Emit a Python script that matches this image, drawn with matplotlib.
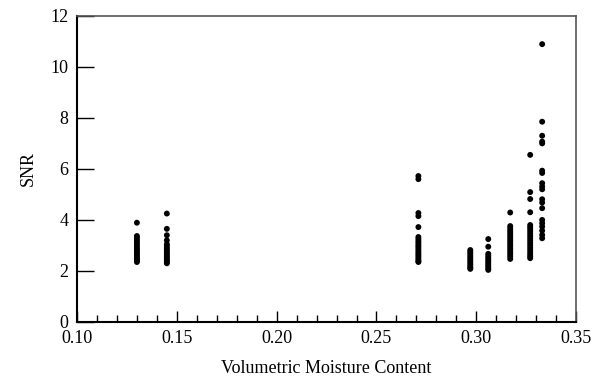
import numpy as np
import matplotlib
matplotlib.use("Agg")
import matplotlib.pyplot as plt
from matplotlib.ticker import MultipleLocator, FormatStrFormatter

plt.rcParams['font.family'] = ['Liberation Serif', 'DejaVu Serif']

vmc_groups = [0.130, 0.145, 0.271, 0.297, 0.306, 0.317, 0.327, 0.333]
snr_groups = [
    [3.89, 3.37, 3.30, 3.22, 3.15, 3.08, 3.00, 2.93, 2.86, 2.80, 2.74, 2.68,
     2.62, 2.56, 2.50, 2.45, 2.40, 2.35],
    [4.25, 3.65, 3.40, 3.20, 3.05, 2.98, 2.90, 2.83, 2.76, 2.70, 2.64, 2.58,
     2.52, 2.46, 2.40, 2.35, 2.30],
    [5.72, 5.60, 4.27, 4.15, 3.72, 3.33, 3.25, 3.17, 3.10, 3.02, 2.95, 2.88,
     2.80, 2.73, 2.66, 2.59, 2.52, 2.45, 2.38, 2.35],
    [2.82, 2.75, 2.68, 2.60, 2.53, 2.46, 2.39, 2.32, 2.25, 2.18, 2.12, 2.08],
    [3.25, 2.95, 2.67, 2.60, 2.52, 2.45, 2.38, 2.31, 2.24, 2.17, 2.10, 2.04],
    [4.29, 3.76, 3.68, 3.60, 3.52, 3.44, 3.36, 3.28, 3.20, 3.12, 3.04, 2.96,
     2.88, 2.80, 2.72, 2.64, 2.56, 2.47],
    [6.55, 5.09, 4.82, 4.30, 3.80, 3.72, 3.64, 3.55, 3.46, 3.37, 3.28, 3.19,
     3.10, 3.01, 2.92, 2.83, 2.74, 2.65, 2.57, 2.50],
    [10.89, 7.85, 7.30, 7.07, 7.00, 5.93, 5.84, 5.44, 5.31, 5.20, 4.81, 4.68,
     4.46, 4.00, 3.87, 3.74, 3.58, 3.41, 3.28],
]

fig = plt.figure(figsize=(5.97, 3.77), dpi=100)
ax = fig.add_axes([0.129, 0.146, 0.836, 0.812])

for vmc, snr in zip(vmc_groups, snr_groups):
    ax.scatter(np.full(len(snr), vmc), snr, s=18, color='black',
               edgecolors='none', zorder=3)

ax.set_xlim(0.10, 0.35)
ax.set_ylim(0, 12)
ax.xaxis.set_major_locator(MultipleLocator(0.05))
ax.xaxis.set_minor_locator(MultipleLocator(0.01))
ax.xaxis.set_major_formatter(FormatStrFormatter('%.2f'))
ax.yaxis.set_major_locator(MultipleLocator(2))

ax.tick_params(axis='x', which='major', direction='in', length=8, width=1,
               labelsize=13, pad=6, top=False)
ax.tick_params(axis='x', which='minor', direction='in', length=5, width=1,
               top=False)
ax.tick_params(axis='y', which='major', direction='in', length=12, width=1,
               labelsize=13, pad=6, right=False)

ax.spines['left'].set_linewidth(1.5)
ax.spines['bottom'].set_linewidth(1.5)
for side in ['top', 'right']:
    ax.spines[side].set_linewidth(1.2)
    ax.spines[side].set_color('#555555')

ax.set_xlabel('Volumetric Moisture Content', fontsize=13, labelpad=9)
ax.set_ylabel('SNR', fontsize=13, labelpad=10)

fig.savefig('out.png', dpi=100)
